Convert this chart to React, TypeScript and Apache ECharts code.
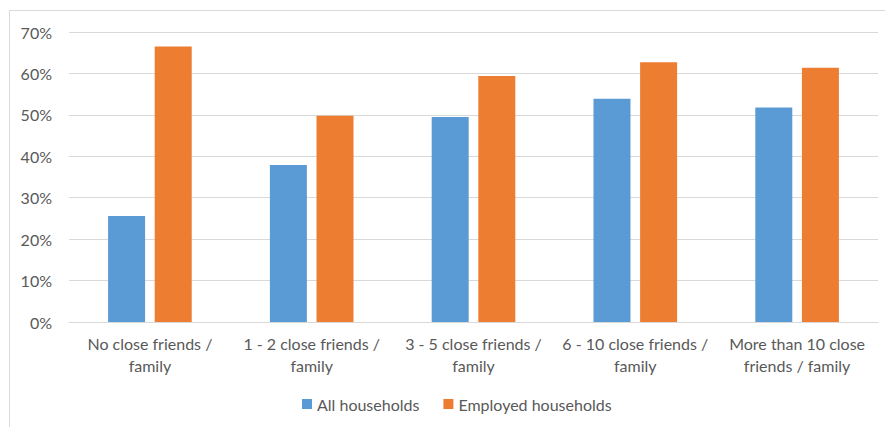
import React, { useEffect, useRef } from "react";
import * as echarts from "echarts";

const categories = [
  "No close friends /\nfamily",
  "1 - 2 close friends /\nfamily",
  "3 - 5 close friends /\nfamily",
  "6 - 10 close friends /\nfamily",
  "More than 10 close\nfriends / family",
];
const allHouseholds = [25.6, 37.9, 49.5, 53.9, 51.8];
const employedHouseholds = [66.5, 49.8, 59.4, 62.7, 61.4];
const seriesNames = ["All households", "Employed households"];

export default function App() {
  const ref = useRef<HTMLDivElement>(null);
  useEffect(() => {
    if (!ref.current) return;
    const chart = echarts.init(ref.current, null, { renderer: "svg" });
    const font = "Lato, 'Open Sans', sans-serif";
    chart.setOption({
      animation: false,
      backgroundColor: "#ffffff",
      textStyle: { fontFamily: font },
      graphic: [
        {
          type: "rect",
          shape: { x: 9.5, y: 10.5, width: 900, height: 440 },
          style: { fill: "none", stroke: "#d9d9d9", lineWidth: 1 },
          silent: true,
        },
      ],
      grid: { left: 69, right: 7, top: 32, bottom: 105, containLabel: false },
      legend: {
        left: 297,
        top: 391,
        itemWidth: 10,
        itemHeight: 10,
        itemGap: 24,
        icon: "rect",
        textStyle: { color: "#595959", fontSize: 16, fontFamily: font },
        data: seriesNames,
      },
      xAxis: {
        type: "category",
        data: categories,
        axisLine: { lineStyle: { color: "#d9d9d9", width: 1 } },
        axisTick: { show: false },
        axisLabel: {
          color: "#595959",
          fontSize: 16,
          fontFamily: font,
          lineHeight: 22,
          margin: 10,
          interval: 0,
        },
      },
      yAxis: {
        type: "value",
        min: 0,
        max: 70,
        interval: 10,
        axisLine: { show: false },
        axisTick: { show: false },
        axisLabel: {
          color: "#595959",
          fontSize: 16,
          fontFamily: font,
          formatter: "{value}%",
          margin: 17,
        },
        splitLine: { lineStyle: { color: "#d9d9d9", width: 1 } },
      },
      series: [
        {
          name: seriesNames[0],
          type: "bar",
          data: allHouseholds,
          barWidth: 37,
          barGap: "26%",
          itemStyle: { color: "#5b9bd5" },
        },
        {
          name: seriesNames[1],
          type: "bar",
          data: employedHouseholds,
          barWidth: 37,
          barGap: "26%",
          itemStyle: { color: "#ed7d31" },
        },
      ],
    });
    return () => chart.dispose();
  }, []);
  return <div ref={ref} style={{ width: 885, height: 427, position: "absolute", left: 0, top: 0 }} />;
}
